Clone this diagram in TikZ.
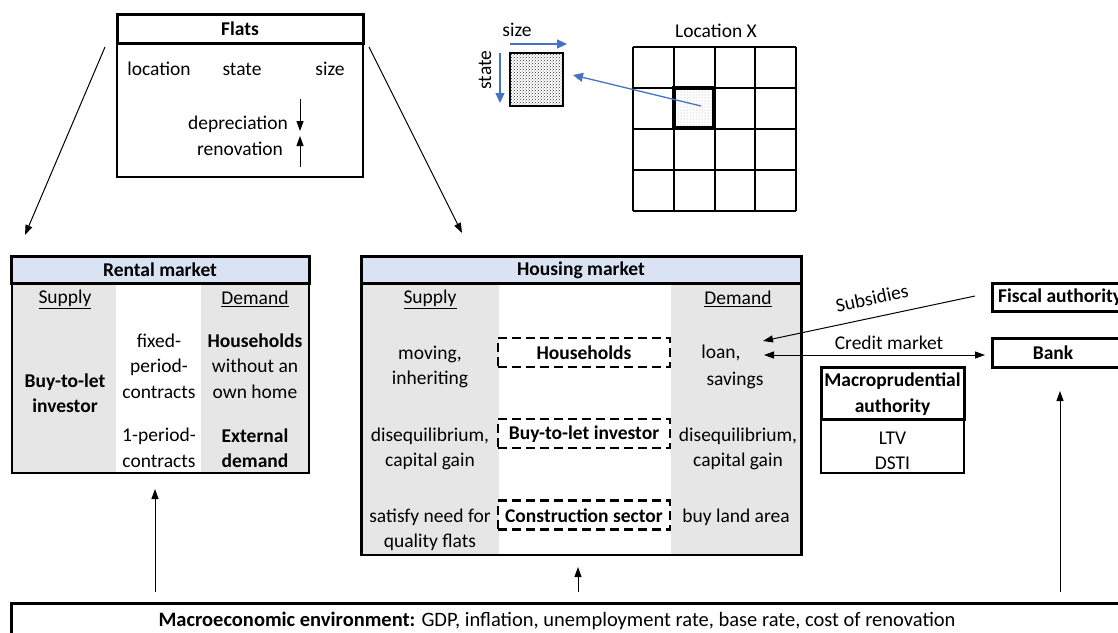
\documentclass[tikz,border=0pt]{standalone}
\usepackage{fontspec}
\setmainfont{Carlito}
\usetikzlibrary{arrows.meta,patterns}
\definecolor{titleblue}{HTML}{DAE3F3}
\definecolor{colgray}{HTML}{E7E6E6}
\definecolor{arrowblue}{HTML}{4472C4}
\begin{document}
\begin{tikzpicture}[x=1pt,y=-1pt,
  txt/.style={font=\fontsize{19.5}{25.5}\selectfont, inner sep=0pt, align=center},
  btxt/.style={txt, font=\fontsize{19.5}{25.5}\selectfont\bfseries},
  box/.style={draw, line width=2pt, inner sep=0pt, minimum width=#1},
  tbox/.style={draw, line width=3pt, inner sep=0pt, minimum width=#1},
  dbox/.style={draw, line width=2.6pt, dash pattern=on 9pt off 5pt, inner sep=0pt, minimum width=172pt, minimum height=29pt},
  graycol/.style={fill=colgray, draw=none},
  arr/.style={line width=1pt, -{Triangle[length=10pt,width=7pt]}},
  darr/.style={line width=1pt, {Triangle[length=10pt,width=7pt]}-{Triangle[length=10pt,width=7pt]}},
  barr/.style={line width=1.3pt, draw=arrowblue, -{Triangle[length=10pt,width=9pt]}, arrowblue},
  gridline/.style={line width=2pt}
]
\clip (0,0) rectangle (1118,632);
\fill[white] (0,0) rectangle (1118,632);

% ---------------- Flats ----------------
\node[tbox=246pt, minimum height=29pt] (flatsT) at (240,28.5) {};
\node[btxt] (flatsL) at (240,29) {Flats};
\node[box=246pt, minimum height=133pt] (flatsB) at (240,110) {};
\node[txt] (loc) at (159,69) {location};
\node[txt] (st) at (242,69) {state};
\node[txt] (sz) at (330,69) {size};
\node[txt] (dep) at (238,124) {depreciation};
\node[txt] (ren) at (240,149) {renovation};
\coordinate (depA) at (300,99);
\coordinate (depB) at (300,131);
\coordinate (renA) at (300,167);
\coordinate (renB) at (300,136);
\draw[arr] (depA) -- (depB);
\draw[arr] (renA) -- (renB);

\coordinate (flL) at (105,47);
\coordinate (flLend) at (25,235);
\coordinate (flR) at (369,47);
\coordinate (flRend) at (462,233);
\draw[arr] (flL) -- (flLend);
\draw[arr] (flR) -- (flRend);

% ---------------- Location grid ----------------
\node[txt] (locX) at (716,31) {Location X};
\foreach \i in {0,...,4} {
  \draw[gridline] (633+\i*40.75,47) -- (633+\i*40.75,211);
  \draw[gridline] (633,47+\i*41) -- (796,47+\i*41);
}
\node[draw, line width=3.2pt, minimum width=40pt, minimum height=40pt, inner sep=0pt,
  pattern=dots, pattern color=gray!70] (cell) at (694,108) {};
\node[draw, line width=1.5pt, minimum width=53pt, minimum height=53pt, inner sep=0pt,
  pattern=crosshatch dots, pattern color=black!80] (flat) at (536.5,79.5) {};
\node[txt] (sizeL) at (517,30) {size};
\node[txt, rotate=90] (stateL) at (485,70) {state};
\coordinate (sizeA) at (510,44);
\coordinate (sizeB) at (567,44);
\coordinate (stateA) at (500,53);
\coordinate (stateB) at (500,103);
\coordinate (cellP) at (701,106);
\coordinate (flatP) at (573,75);
\draw[barr] (sizeA) -- (sizeB);
\draw[barr] (stateA) -- (stateB);
\draw[barr] (cellP) -- (flatP);

% ---------------- Rental market ----------------
\fill[graycol] (12,283) rectangle (116,473);
\fill[graycol] (201,283) rectangle (309,473);
\node[box=297pt, minimum height=190pt, line width=2.5pt] (rentB) at (160.5,378) {};
\node[tbox=298pt, minimum height=27pt, fill=titleblue] (rentT) at (160,269.5) {};
\node[btxt] (rentL) at (160,270) {Rental market};
\node[txt] (rsup) at (65,299) {\underline{Supply}};
\node[txt] (rdem) at (255,299) {\underline{Demand}};
\node[btxt] (rbtl) at (65,393) {Buy-to-let\\investor};
\node[txt] (rfix) at (159,366) {fixed-\\period-\\contracts};
\node[txt] (r1p) at (159,448) {1-period-\\contracts};
\node[txt] (rhh) at (255,366) {\textbf{Households}\\without an\\own home};
\node[btxt] (rext) at (255,448) {External\\demand};

% ---------------- Housing market ----------------
\fill[graycol] (362,283) rectangle (499,555);
\fill[graycol] (671,283) rectangle (801,555);
\node[box=440pt, minimum height=272pt, line width=2.5pt] (houseB) at (581.5,419) {};
\node[tbox=440pt, minimum height=27pt, fill=titleblue] (houseT) at (581,269.5) {};
\node[btxt] (houseL) at (581,270) {Housing market};
\node[txt] (hsup) at (430,299) {\underline{Supply}};
\node[txt] (hdem) at (738,299) {\underline{Demand}};
\node[txt] (hmov) at (430,367) {moving,\\inheriting};
\node[txt] (hdis) at (430,449) {disequilibrium,\\capital gain};
\node[txt] (hsat) at (430,530) {satisfy need for\\quality flats};
\node[dbox] (hh) at (584,352.5) {};
\node[btxt] (hhL) at (584,353) {Households};
\node[dbox] (btl) at (584,433.5) {};
\node[btxt] (btlL) at (584,434) {Buy-to-let investor};
\node[dbox] (cs) at (584,515) {};
\node[btxt] (csL) at (584,516) {Construction sector};
\node[txt] (loan) at (721,353) {loan,};
\node[txt] (sav) at (735,380) {savings};
\node[txt] (ddis) at (738,449) {disequilibrium,\\capital gain};
\node[txt] (dbuy) at (736,517) {buy land area};

% ---------------- Right side ----------------
\node[tbox=138pt, minimum height=28pt] (fiscal) at (1061,297) {};
\node[btxt, anchor=west] (fiscalL) at (998,297) {Fiscal authority};
\node[tbox=138pt, minimum height=29pt] (bank) at (1061,352.5) {};
\node[btxt] (bankL) at (1053,353) {Bank};
\node[tbox=143pt, minimum height=52pt] (mpT) at (892.5,393) {};
\node[btxt] (mpL) at (892.5,394) {Macroprudential\\authority};
\node[box=143pt, minimum height=54pt, line width=2.5pt] (mpB) at (892.5,446) {};
\node[txt] (mpV) at (892.5,451) {LTV\\DSTI};

\coordinate (subA) at (975,296);
\coordinate (subB) at (763,341);
\draw[arr] (subA) -- (subB);
\node[txt, rotate=12] (subL) at (872,298) {Subsidies};
\coordinate (crA) at (764,355);
\coordinate (crB) at (985,355);
\draw[darr] (crA) -- (crB);
\node[txt] (crL) at (889,343) {Credit market};

% ---------------- Macro environment ----------------
\node[tbox=1125pt, minimum height=40pt] (macro) at (573.5,623) {};
\node[txt, font=\fontsize{20.5}{22}\selectfont] (macroL) at (557,621) {\textbf{Macroeconomic environment:} GDP, inflation, unemployment rate, base rate, cost of renovation};
\coordinate (m1) at (155,592);
\coordinate (m1t) at (155,489);
\coordinate (m2) at (578,592);
\coordinate (m2t) at (578,567);
\coordinate (m3) at (1060,592);
\coordinate (m3t) at (1060,391);
\draw[arr] (m1) -- (m1t);
\draw[arr] (m2) -- (m2t);
\draw[arr] (m3) -- (m3t);
\end{tikzpicture}
\end{document}
